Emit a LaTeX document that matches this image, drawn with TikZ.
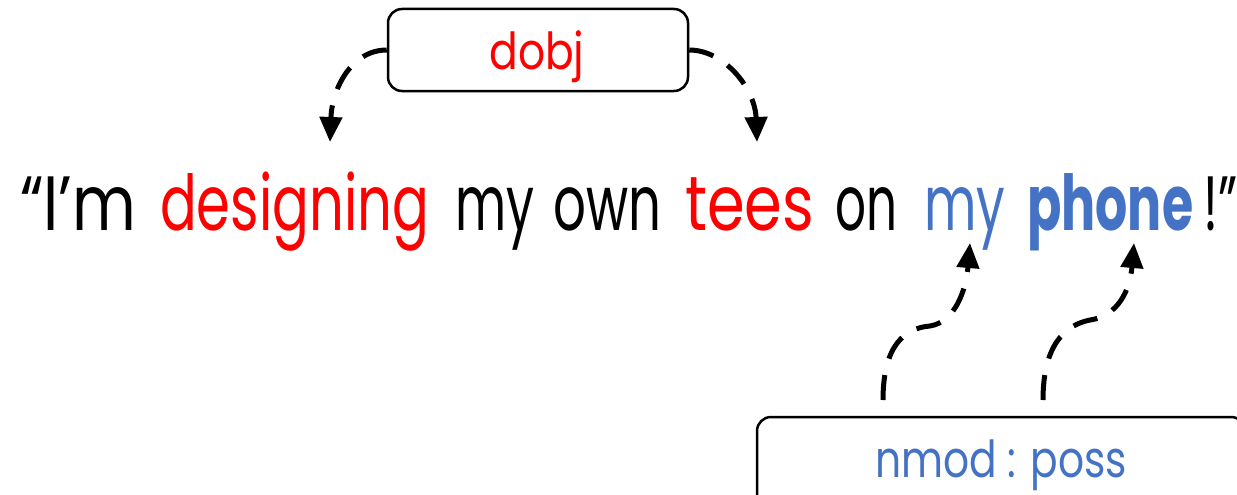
\documentclass[tikz,border=0pt]{standalone}
\usepackage{fontspec}
\setmainfont{Poppins}
\usepackage{graphicx}
\usetikzlibrary{arrows.meta}
\definecolor{myred}{RGB}{255,0,0}
\definecolor{myblue}{RGB}{68,114,196}
\newcommand{\fitword}[2]{\resizebox{#1}{\height}{\fontsize{77}{90}\selectfont #2}}
\begin{document}
\begin{tikzpicture}[x=1pt,y=-1pt,
  conn/.style={line width=5pt, dash pattern=on 25pt off 17pt, -{Triangle[length=25pt,width=22pt]}},
  labelbox/.style={draw, line width=2.5pt, rounded corners=14pt, inner sep=0pt},
  word/.style={anchor=base west, inner sep=0pt}]
\useasboundingbox (0,0) rectangle (1237,495);
\clip (0,0) rectangle (1237,495);
% sentence, word by word
\node[word] (w1) at (20,230) {\fitword{116pt}{“I’m}};
\node[word, text=myred] (w2) at (160,230) {\fitword{269pt}{designing}};
\node[word] (w3) at (455,230) {\fitword{79pt}{my}};
\node[word] (w4) at (553,230) {\fitword{108pt}{own}};
\node[word, text=myred] (w5) at (685,230) {\fitword{129pt}{tees}};
\node[word] (w6) at (835,230) {\fitword{62pt}{on}};
\node[word, text=myblue] (w7) at (924,230) {\fitword{81pt}{my}};
\node[word, text=myblue] (w8) at (1027,230) {\fitword{166pt}{\bfseries phone}};
\node[word] (w9) at (1203,230) {\fitword{34pt}{!”}};
% dobj box
\node[labelbox, minimum width=300pt, minimum height=82pt] (dobj) at (538,50) {};
\node[anchor=base, inner sep=0pt, text=myred] (dobjtxt) at (537,70)
  {\resizebox{95pt}{\height}{\fontsize{51}{60}\selectfont dobj}};
% nmod box
\node[labelbox, minimum width=488pt, minimum height=90pt] (nmod) at (1001,462) {};
\node[anchor=base, inner sep=0pt, text=myblue] (nmodtxt) at (1001,477)
  {\resizebox{252pt}{\height}{\fontsize{51}{60}\selectfont nmod : poss}};
% connector end points
\coordinate (t1) at (330,142);
\coordinate (t2) at (757,142);
\coordinate (s3) at (883,400);
\coordinate (m3) at (930,326);
\coordinate (t3) at (970,243);
\coordinate (s4) at (1043,400);
\coordinate (m4) at (1090,320);
\coordinate (t4) at (1134,243);
% connectors
\draw[conn] (dobj.west) .. controls (352,50) and (332,88) .. (t1);
\draw[conn] (dobj.east) .. controls (724,50) and (755,88) .. (t2);
\draw[conn] (s3) .. controls (883,345) and (905,328) .. (m3) .. controls (955,322) and (966,290) .. (t3);
\draw[conn] (s4) .. controls (1043,345) and (1065,325) .. (m4) .. controls (1118,316) and (1130,290) .. (t4);
\end{tikzpicture}
\end{document}
